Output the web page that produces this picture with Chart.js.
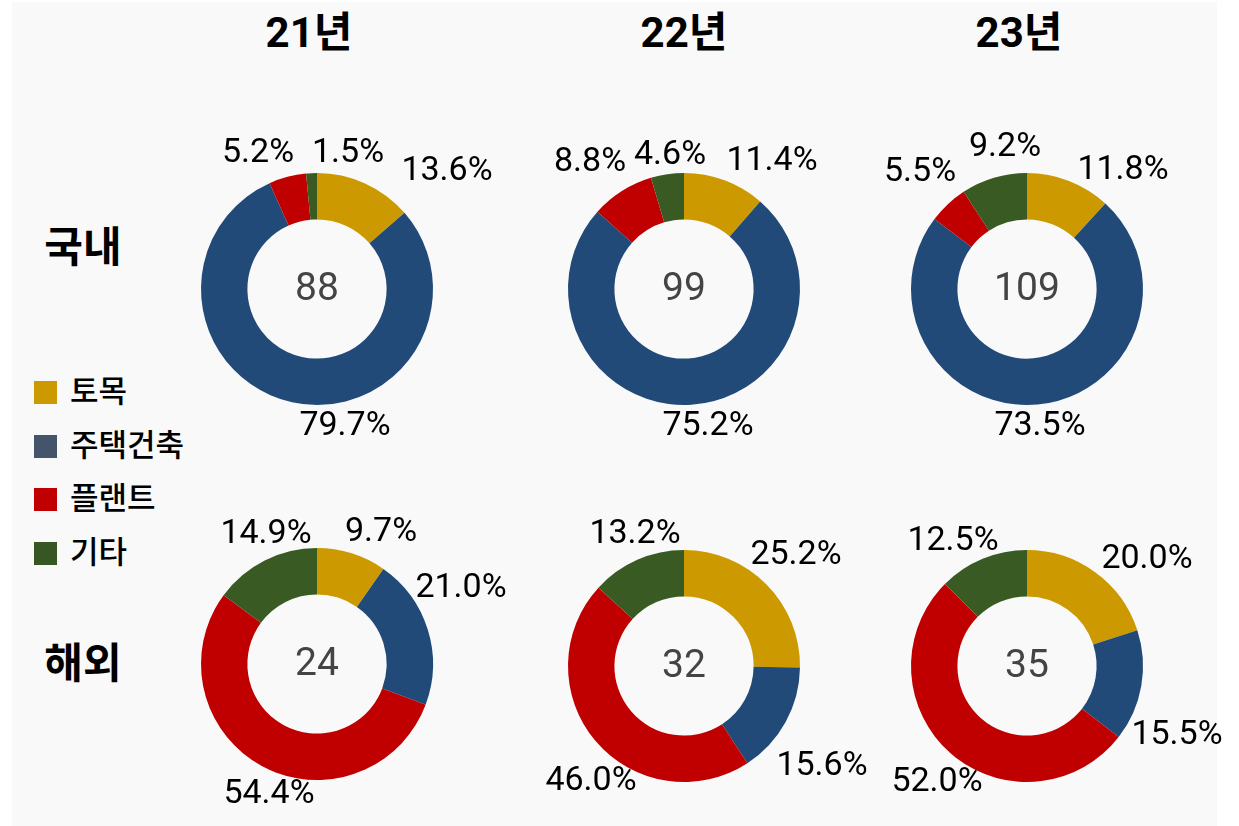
<!DOCTYPE html>
<html>
<head>
<meta charset="utf-8">
<script src="https://cdn.jsdelivr.net/npm/chart.js@4.4.0/dist/chart.umd.min.js"></script>
<style>
    html, body { margin: 0; padding: 0; background: #fff; overflow: hidden; width: 1239px; height: 826px; }
    #panel { position: absolute; left: 12px; top: 2px; width: 1205px; height: 824px; background: #f9f9f9; }
    .txt {
        position: absolute; transform: translate(-50%, -50%); line-height: 1; white-space: nowrap;
        font-family: Roboto, "Noto Sans CJK KR", sans-serif; color: #000;
    }
    .hdr { font-size: 42px; font-weight: bold; }
    .leg { position: absolute; left: 34px; display: flex; align-items: center; height: 23px;
           font-family: "Noto Sans CJK KR", sans-serif; font-size: 31px; font-weight: 500; line-height: 1; }
    .leg span.box { display: inline-block; width: 23px; height: 23px; margin-right: 13px; }
    .leg span.lbl { position: relative; top: -4px; }
    canvas { position: absolute; }
</style>
</head>
<body>
<div id="panel"></div>
<div id="page"></div>

<script>
/* ============================================================================
   DATA
   ============================================================================ */
const categories = ["토목", "주택건축", "플랜트", "기타"];
const years = ["21년", "22년", "23년"];
const regions = ["국내", "해외"];

// share of orders by sector (%), order = 토목, 주택건축, 플랜트, 기타
const domestic21 = [13.6, 79.7, 5.2, 1.5];
const domestic22 = [11.4, 75.2, 8.8, 4.6];
const domestic23 = [11.8, 73.5, 5.5, 9.2];
const overseas21 = [9.7, 21.0, 54.4, 14.9];
const overseas22 = [25.2, 15.6, 46.0, 13.2];
const overseas23 = [20.0, 15.5, 52.0, 12.5];

// totals shown in the middle of each ring
const domesticTotals = [88, 99, 109];
const overseasTotals = [24, 32, 35];

/* ============================================================================
   LAYOUT + COLORS
   ============================================================================ */
const sliceColors = ["#cc9a00", "#214a78", "#c00000", "#3a5a24"];
const legendColors = ["#cc9a00", "#44546a", "#c00000", "#375623"];

const ringCenters = [[317, 289], [684, 289], [1027, 289], [317, 664], [684, 666], [1027, 666]];
const headerPos = [[309, 33], [684, 33], [1019, 33]];
const rowLabelPos = [[83, 248], [83, 664]];

// hand placed label offsets from the ring centre, one [dx, dy] per slice
const labelOffsets = [
    [[130, -118], [28, 137], [-59, -136], [31, -136]],
    [[88, -128], [24, 137], [-94, -127], [-14, -134]],
    [[96, -119], [13, 137], [-107, -117], [-22, -142]],
    [[64, -132], [144, -76], [-48, 130], [-51, -130]],
    [[112, -111], [138, 100], [-93, 115], [-49, -132]],
    [[120, -107], [150, 69], [-90, 116], [-74, -125]]
];

const CW = 400, CH = 340, RADIUS = 116;

/* ============================================================================
   PLUGINS
   ============================================================================ */
const pctLabelPlugin = {
    id: "pctLabels",
    afterDatasetsDraw(chart, args, options) {
        const { ctx } = chart;
        const arcs = chart.getDatasetMeta(0).data;
        const values = chart.data.datasets[0].data;
        ctx.save();
        ctx.font = "34px Roboto";
        ctx.fillStyle = "#000";
        ctx.textAlign = "center";
        ctx.textBaseline = "middle";
        arcs.forEach((arc, i) => {
            const [dx, dy] = options.offsets[i];
            ctx.fillText(values[i].toFixed(1) + "%", arc.x + dx, arc.y + dy);
        });
        ctx.restore();
    }
};

const centerTotalPlugin = {
    id: "centerTotal",
    afterDatasetsDraw(chart, args, options) {
        const { ctx } = chart;
        const arc = chart.getDatasetMeta(0).data[0];
        ctx.save();
        ctx.font = "39px Roboto";
        ctx.fillStyle = "#444";
        ctx.textAlign = "center";
        ctx.textBaseline = "middle";
        ctx.fillText(String(options.total), arc.x, arc.y + 1);
        ctx.restore();
    }
};

/* ============================================================================
   BUILD PAGE
   ============================================================================ */
const page = document.getElementById("page");

years.forEach((y, i) => {
    const d = document.createElement("div");
    d.className = "txt hdr";
    d.style.left = headerPos[i][0] + "px";
    d.style.top = headerPos[i][1] + "px";
    d.textContent = y;
    page.appendChild(d);
});

regions.forEach((r, i) => {
    const d = document.createElement("div");
    d.className = "txt hdr";
    d.style.left = rowLabelPos[i][0] + "px";
    d.style.top = rowLabelPos[i][1] + "px";
    d.textContent = r;
    page.appendChild(d);
});

categories.forEach((c, i) => {
    const d = document.createElement("div");
    d.className = "leg";
    d.style.top = (381 + i * 53.5) + "px";
    d.innerHTML = `<span class="box" style="background:${legendColors[i]}"></span><span class="lbl">${c}</span>`;
    page.appendChild(d);
});

const series = [domestic21, domestic22, domestic23, overseas21, overseas22, overseas23];
const totals = [...domesticTotals, ...overseasTotals];

series.forEach((values, i) => {
    const [cx, cy] = ringCenters[i];
    const canvas = document.createElement("canvas");
    canvas.width = CW;
    canvas.height = CH;
    canvas.style.left = (cx - CW / 2) + "px";
    canvas.style.top = (cy - CH / 2) + "px";
    page.appendChild(canvas);

    const padX = CW / 2 - RADIUS, padY = CH / 2 - RADIUS;

    new Chart(canvas, {
        type: "doughnut",
        data: {
            labels: categories,
            datasets: [{
                data: values,
                backgroundColor: sliceColors,
                borderWidth: 0,
                offset: 0,
                hoverOffset: 0
            }]
        },
        options: {
            responsive: false,
            animation: false,
            cutout: "60%",
            layout: { padding: { left: padX, right: padX, top: padY, bottom: padY } },
            plugins: {
                legend: { display: false },
                tooltip: { enabled: false },
                pctLabels: { offsets: labelOffsets[i] },
                centerTotal: { total: totals[i] }
            },
            events: []
        },
        plugins: [pctLabelPlugin, centerTotalPlugin]
    });
});
</script>
</body>
</html>
